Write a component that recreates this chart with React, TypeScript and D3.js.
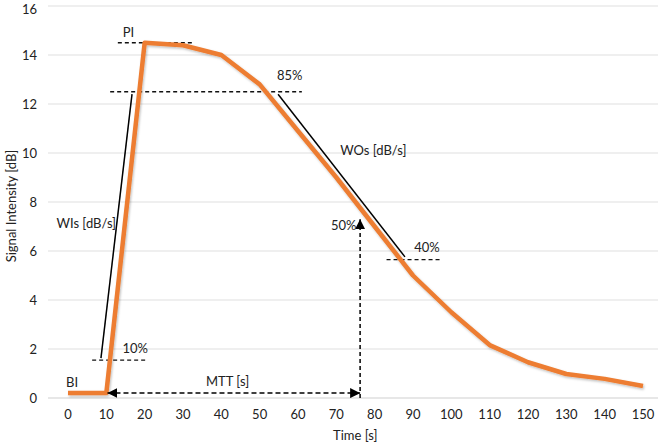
import React, { useEffect, useRef } from 'react';
import * as d3 from 'd3';

// curve samples
const times = [0, 10, 20, 30, 40, 50, 60, 70, 80, 90, 100, 110, 120, 130, 140, 150];
const intensity = [0.2, 0.2, 14.5, 14.4, 14.0, 12.8, 10.9, 9.0, 7.0, 5.0, 3.5, 2.16, 1.46, 0.98, 0.78, 0.49];

const xTicks = [0, 10, 20, 30, 40, 50, 60, 70, 80, 90, 100, 110, 120, 130, 140, 150];
const yTicks = [0, 2, 4, 6, 8, 10, 12, 14, 16];

// dashed reference levels: [t0, t1, value]
const dashLevels = [
  [13, 32.6, 14.5],
  [11, 61, 12.5],
  [6.3, 20.3, 1.55],
  [83.1, 97, 5.65],
];
// slope lines: [t0, v0, t1, v1]
const slopes = [
  [8.6, 1.63, 16.7, 12.4],
  [54.8, 12.4, 87.9, 5.76],
];
const mttStart = 10.3;
const mttEnd = 76.2;
const mttLevel = 0.2;
const halfLevel = 7.3;

// labels: [text, t, value]
const labels: [string, number, number][] = [
  ['PI', 14.3, 14.75],
  ['85%', 54.5, 13.0],
  ['10%', 14.2, 1.85],
  ['BI', -0.5, 0.45],
  ['WIs [dB/s]', -3, 6.95],
  ['WOs [dB/s]', 71, 9.9],
  ['40%', 90.3, 5.95],
  ['50%', 68.6, 6.85],
  ['MTT [s]', 36, 0.5],
];

const W = 661;
const H = 447;

export default function App() {
  const ref = useRef<SVGSVGElement>(null);

  useEffect(() => {
    const svg = d3.select(ref.current);
    svg.selectAll('*').remove();

    const x = d3.scaleLinear().domain([0, 150]).range([68, 643]);
    const y = d3.scaleLinear().domain([0, 16]).range([398, 6]);
    const font = 'Lato, "Open Sans", sans-serif';

    const defs = svg.append('defs');
    const f = defs.append('filter').attr('id', 'sh').attr('x', '-10%').attr('y', '-10%').attr('width', '120%').attr('height', '120%');
    f.append('feDropShadow').attr('dx', 1).attr('dy', 1.5).attr('stdDeviation', 1).attr('flood-color', '#000').attr('flood-opacity', 0.25);
    defs
      .append('marker')
      .attr('id', 'arr')
      .attr('viewBox', '0 0 10 10')
      .attr('refX', 10)
      .attr('refY', 5)
      .attr('markerWidth', 10)
      .attr('markerHeight', 10)
      .attr('markerUnits', 'userSpaceOnUse')
      .attr('orient', 'auto-start-reverse')
      .append('path')
      .attr('d', 'M0,0L10,5L0,10Z')
      .attr('fill', '#000');

    svg.append('rect').attr('width', W).attr('height', H).attr('fill', '#fff');

    // gridlines
    svg
      .append('g')
      .selectAll('line')
      .data(yTicks)
      .enter()
      .append('line')
      .attr('x1', 48)
      .attr('x2', 658)
      .attr('y1', (d) => y(d))
      .attr('y2', (d) => y(d))
      .attr('stroke', (d) => (d === 0 ? '#cfcfcf' : '#e0e0e0'))
      .attr('stroke-width', 1.2);

    // tick labels (top one nudged down so it is not clipped)
    svg
      .append('g')
      .selectAll('text')
      .data(yTicks)
      .enter()
      .append('text')
      .attr('x', 37)
      .attr('y', (d) => Math.max(y(d) + 4.5, 13.5))
      .attr('text-anchor', 'end')
      .attr('font-family', font)
      .attr('font-size', 13)
      .attr('fill', '#222')
      .text((d) => d);

    svg
      .append('g')
      .selectAll('text')
      .data(xTicks)
      .enter()
      .append('text')
      .attr('x', (d) => x(d))
      .attr('y', 419)
      .attr('text-anchor', 'middle')
      .attr('font-family', font)
      .attr('font-size', 13)
      .attr('fill', '#222')
      .text((d) => d);

    svg
      .append('text')
      .attr('x', 333)
      .attr('y', 440)
      .attr('font-family', font)
      .attr('font-size', 13)
      .attr('fill', '#222')
      .text('Time [s]');

    svg
      .append('text')
      .attr('transform', 'translate(16,206) rotate(-90)')
      .attr('text-anchor', 'middle')
      .attr('font-family', font)
      .attr('font-size', 13)
      .attr('fill', '#222')
      .text('Signal Intensity [dB]');

    // dashed levels
    svg
      .append('g')
      .selectAll('line')
      .data(dashLevels)
      .enter()
      .append('line')
      .attr('x1', (d) => x(d[0]))
      .attr('x2', (d) => x(d[1]))
      .attr('y1', (d) => y(d[2]))
      .attr('y2', (d) => y(d[2]))
      .attr('stroke', '#111')
      .attr('stroke-width', 1.3)
      .attr('stroke-dasharray', '4,3');

    // slope lines
    svg
      .append('g')
      .selectAll('line')
      .data(slopes)
      .enter()
      .append('line')
      .attr('x1', (d) => x(d[0]))
      .attr('y1', (d) => y(d[1]))
      .attr('x2', (d) => x(d[2]))
      .attr('y2', (d) => y(d[3]))
      .attr('stroke', '#000')
      .attr('stroke-width', 1.5);

    // curve
    const line = d3
      .line<number>()
      .x((d, i) => x(times[i]))
      .y((d) => y(d));
    svg
      .append('path')
      .datum(intensity)
      .attr('d', line)
      .attr('fill', 'none')
      .attr('stroke', '#ED7D31')
      .attr('stroke-width', 4.5)
      .attr('stroke-linejoin', 'round')
      .attr('filter', 'url(#sh)');

    // MTT arrow
    svg
      .append('line')
      .attr('x1', x(mttStart))
      .attr('x2', x(mttEnd))
      .attr('y1', y(mttLevel))
      .attr('y2', y(mttLevel))
      .attr('stroke', '#000')
      .attr('stroke-width', 1.5)
      .attr('stroke-dasharray', '5,3')
      .attr('marker-start', 'url(#arr)')
      .attr('marker-end', 'url(#arr)');

    // 50% vertical arrow
    svg
      .append('line')
      .attr('x1', x(mttEnd))
      .attr('x2', x(mttEnd))
      .attr('y1', y(0))
      .attr('y2', y(halfLevel))
      .attr('stroke', '#000')
      .attr('stroke-width', 1.5)
      .attr('stroke-dasharray', '4,3')
      .attr('marker-end', 'url(#arr)');

    // annotation texts
    svg
      .append('g')
      .selectAll('text')
      .data(labels)
      .enter()
      .append('text')
      .attr('x', (d) => x(d[1]))
      .attr('y', (d) => y(d[2]))
      .attr('font-family', font)
      .attr('font-size', 13)
      .attr('fill', '#222')
      .text((d) => d[0]);
  }, []);

  return <svg ref={ref} width={W} height={H} style={{ position: 'absolute', left: 0, top: 0 }} />;
}
